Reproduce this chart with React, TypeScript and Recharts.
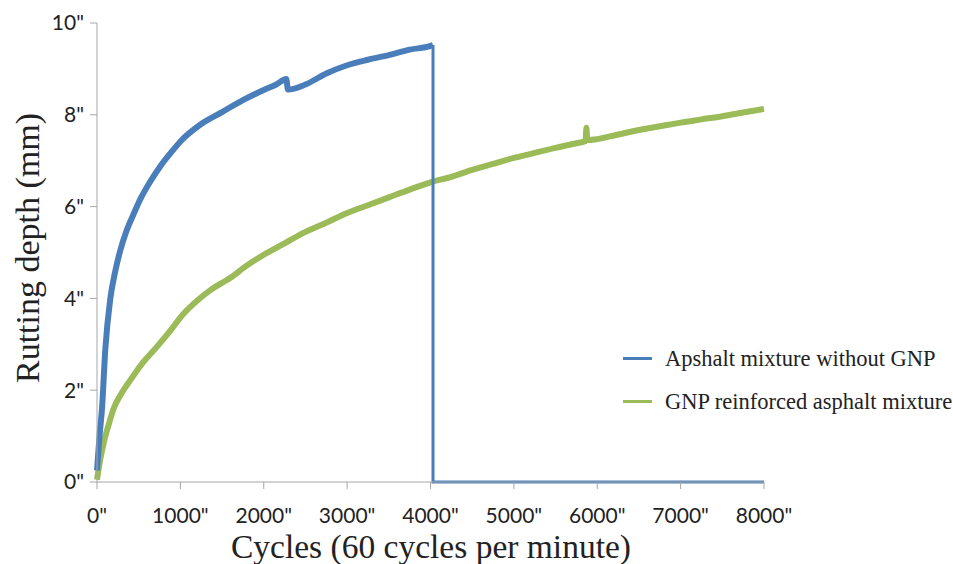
import { LineChart, Line, XAxis, YAxis, Label } from "recharts"

const xTicks = [0, 1000, 2000, 3000, 4000, 5000, 6000, 7000, 8000]
const yTicks = [0, 2, 4, 6, 8, 10]

// without GNP, the test run until ~4030 cycles
const blueCycles = [0, 30, 60, 100, 160, 220, 280, 350, 430, 530, 640, 760, 880, 1000, 1250, 1500, 1750, 2000, 2150, 2270, 2290, 2500, 2750, 3000, 3250, 3500, 3750, 4000, 4030]
const blueDepth = [0.25, 1.0, 1.6, 2.9, 4.0, 4.6, 5.05, 5.45, 5.8, 6.2, 6.55, 6.88, 7.16, 7.42, 7.8, 8.06, 8.32, 8.54, 8.66, 8.78, 8.55, 8.66, 8.9, 9.08, 9.2, 9.3, 9.42, 9.5, 9.52]
// drop to zero and flat line after the end of the run
const blueEndCycles = [4030, 4030, 8000]
const blueEndDepth = [9.52, 0, 0]

const greenCycles = [0, 40, 80, 140, 200, 300, 400, 550, 720, 880, 1030, 1200, 1360, 1600, 1800, 2000, 2250, 2500, 2750, 3000, 3250, 3500, 3750, 4000, 4250, 4500, 4750, 5000, 5250, 5500, 5750, 5860, 5870, 5880, 6000, 6250, 6500, 6750, 7000, 7250, 7500, 7750, 8000]
const greenDepth = [0.05, 0.5, 0.85, 1.25, 1.6, 1.95, 2.22, 2.6, 2.95, 3.3, 3.65, 3.95, 4.18, 4.45, 4.72, 4.95, 5.2, 5.45, 5.65, 5.86, 6.03, 6.2, 6.37, 6.53, 6.65, 6.8, 6.93, 7.06, 7.17, 7.28, 7.38, 7.43, 7.72, 7.45, 7.47, 7.57, 7.67, 7.75, 7.83, 7.9, 7.97, 8.05, 8.13]

const zip = (xs: number[], ys: number[]) => xs.map((x, i) => ({ x, y: ys[i] }))

const blue = "#4a7ebb"
const green = "#9bbb59"
const axisGray = "#a6a6a6"
const tickFont = { fontFamily: "Lato", fontSize: 21, fill: "#222" }

const legendItems = [
  { name: "Apshalt mixture without GNP", color: blue },
  { name: "GNP reinforced asphalt mixture", color: green },
]

function LegendBox() {
  return (
    <div
      style={{
        position: "absolute",
        left: 623,
        top: 337,
        fontFamily: "Liberation Serif",
        fontSize: 22.5,
        color: "#222",
      }}
    >
      {legendItems.map((it) => (
        <div key={it.name} style={{ display: "flex", alignItems: "center", height: 43 }}>
          <div style={{ width: 29, height: 3, background: it.color, marginRight: 13 }} />
          <span style={{ whiteSpace: "nowrap" }}>{it.name}</span>
        </div>
      ))}
    </div>
  )
}

export default function App() {
  return (
    <div style={{ position: "absolute", left: 0, top: 0, width: 953, height: 564, background: "#fff" }}>
      <LineChart width={953} height={564} margin={{ top: 23, right: 189, bottom: 0, left: 0 }}>
        <XAxis
          type="number"
          dataKey="x"
          domain={[0, 8000]}
          ticks={xTicks}
          height={82}
          stroke={axisGray}
          tickSize={7}
          tickMargin={19}
          tick={tickFont}
          tickFormatter={(v) => `${v}"`}
        >
          <Label
            content={() => (
              <text x={431} y={558} textAnchor="middle" fontFamily="Liberation Serif" fontSize={33.5} fill="#222">
                Cycles (60 cycles per minute)
              </text>
            )}
          />
        </XAxis>
        <YAxis
          type="number"
          dataKey="y"
          domain={[0, 10]}
          ticks={yTicks}
          width={97}
          stroke={axisGray}
          tickSize={7}
          tickMargin={6}
          tick={tickFont}
          tickFormatter={(v) => `${v}"`}
        >
          <Label
            content={() => (
              <text
                x={39}
                y={248}
                textAnchor="middle"
                transform="rotate(-90 39 248)"
                fontFamily="Liberation Serif"
                fontSize={34}
                fill="#222"
              >
                Rutting depth (mm)
              </text>
            )}
          />
        </YAxis>
        <Line
          data={zip(greenCycles, greenDepth)}
          dataKey="y"
          type="monotone"
          stroke={green}
          strokeWidth={6}
          dot={false}
          isAnimationActive={false}
        />
        <Line
          data={zip(blueCycles, blueDepth)}
          dataKey="y"
          type="monotone"
          stroke={blue}
          strokeWidth={6}
          dot={false}
          isAnimationActive={false}
        />
        <Line
          data={zip(blueEndCycles, blueEndDepth)}
          dataKey="y"
          stroke={blue}
          strokeWidth={3}
          dot={false}
          isAnimationActive={false}
        />
      </LineChart>
      <LegendBox />
    </div>
  )
}
